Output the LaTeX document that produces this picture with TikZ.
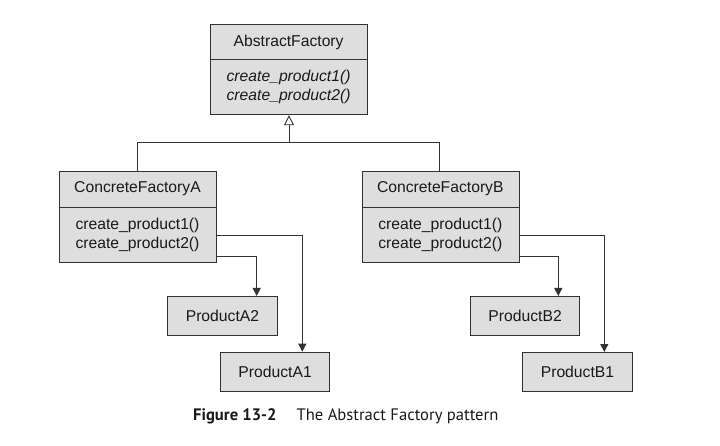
\documentclass[tikz,border=0pt]{standalone}
\usepackage{fontspec}
\setmainfont{Liberation Sans}
\newfontfamily\capfont{PT Sans}
\usetikzlibrary{arrows.meta,calc}
\definecolor{boxfill}{RGB}{222,222,222}
\definecolor{linecol}{RGB}{50,50,50}
\definecolor{textcol}{RGB}{25,25,25}
\begin{document}
\begin{tikzpicture}[x=1pt,y=-1pt,
  boxline/.style={draw=linecol,line width=0.9pt},
  cls/.style={boxline,fill=boxfill,inner sep=0pt},
  lbl/.style={inner sep=0pt,text=textcol,font=\fontsize{15.7}{18.3}\selectfont,align=center},
  conn/.style={draw=linecol,line width=0.9pt},
  assoc/.style={conn,-{Triangle[length=8pt,width=8pt]}},
  inherit/.style={conn,-{Triangle[open,length=10pt,width=10pt,fill=white]}}]
\useasboundingbox (0,0) rectangle (720,446);
% AbstractFactory
\node[cls,minimum width=157pt,minimum height=90.3pt,anchor=north west] (af) at (210,24) {};
\draw[boxline] (210,59.3) -- (367.3,59.3);
\node[lbl] (afname) at (288.6,42) {AbstractFactory};
\node[lbl] (afops) at (288.6,87) {\itshape create\_product1()\\ \itshape create\_product2()};
% ConcreteFactoryA
\node[cls,minimum width=157pt,minimum height=91.3pt,anchor=north west] (cfa) at (59,171) {};
\draw[boxline] (59,207.3) -- (216,207.3);
\node[lbl] (cfaname) at (137.5,189) {ConcreteFactoryA};
\node[lbl] (cfaops) at (137.5,235) {create\_product1()\\ create\_product2()};
% ConcreteFactoryB
\node[cls,minimum width=156.7pt,minimum height=91.3pt,anchor=north west] (cfb) at (362,171) {};
\draw[boxline] (362,207.3) -- (518.7,207.3);
\node[lbl] (cfbname) at (440.3,189) {ConcreteFactoryB};
\node[lbl] (cfbops) at (440.3,235) {create\_product1()\\ create\_product2()};
% Products
\node[cls,minimum width=109.4pt,minimum height=39pt,anchor=north west] (pa2) at (167.3,296) {};
\node[lbl] at (pa2.center) {ProductA2};
\node[cls,minimum width=109.3pt,minimum height=39.3pt,anchor=north west] (pa1) at (220,351.7) {};
\node[lbl] at (pa1.center) {ProductA1};
\node[cls,minimum width=109.3pt,minimum height=39pt,anchor=north west] (pb2) at (470,296) {};
\node[lbl] at (pb2.center) {ProductB2};
\node[cls,minimum width=109.4pt,minimum height=39pt,anchor=north west] (pb1) at (522.3,352) {};
\node[lbl] at (pb1.center) {ProductB1};
% inheritance
\coordinate (join) at (289,142.7);
\draw[conn] (cfa.north -| 137.3,0) |- (join) -| (cfb.north -| 439.3,0);
\draw[inherit] (join) -- (af.south -| join);
% associations
\draw[assoc] (216,235) -| (pa1.north -| 302.3,0);
\draw[assoc] (216,256.3) -| (pa2.north -| 256.7,0);
\draw[assoc] (518.7,235) -| (pb1.north -| 604.3,0);
\draw[assoc] (518.7,256.3) -| (pb2.north -| 558.3,0);
% caption
\node[anchor=base west,inner sep=0pt,text=textcol,font=\capfont\fontsize{16.6}{20}\selectfont] (cap) at (193,420) {\textbf{Figure 13-2}\hspace{20pt}The Abstract Factory pattern};
\end{tikzpicture}
\end{document}
